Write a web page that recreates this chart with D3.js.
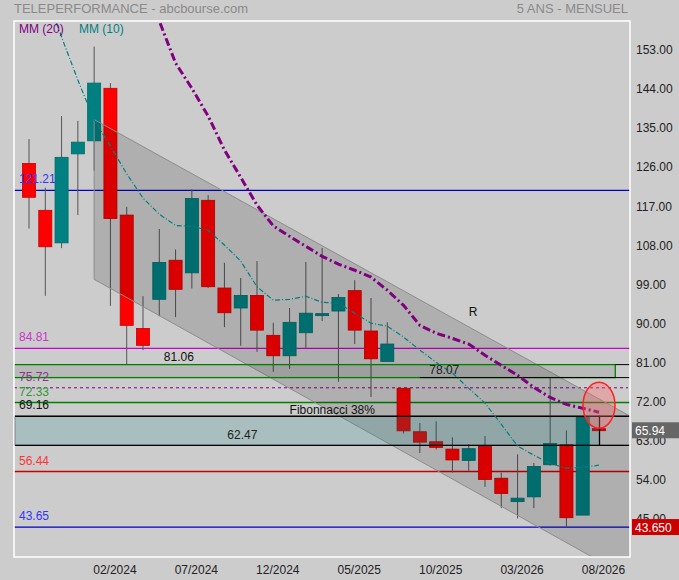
<!DOCTYPE html>
<html lang="fr">
<head>
<meta charset="UTF-8">
<title>Teleperformance</title>
<style>
  * { margin: 0; padding: 0; }
  body { background: #cccccc; }
  svg { display: block; font-family: "Liberation Sans", Arial, sans-serif; }
</style>
</head>
<body>
<div id="chart"></div>
<script src="https://cdn.jsdelivr.net/npm/d3@7/dist/d3.min.js"></script>
<script>
// monthly candles, 09/2023 -> 08/2026
const months = ['09/2023','10/2023','11/2023','12/2023','01/2024','02/2024','03/2024','04/2024','05/2024','06/2024',
  '07/2024','08/2024','09/2024','10/2024','11/2024','12/2024','01/2025','02/2025','03/2025','04/2025',
  '05/2025','06/2025','07/2025','08/2025','09/2025','10/2025','11/2025','12/2025','01/2026','02/2026',
  '03/2026','04/2026','05/2026','06/2026','07/2026','08/2026']
const open  = [127.4,116.6,109.1,129.6,132.6,144.7,115.5,89.4,96.1,105.1, 102.2,118.9,98.7,94.1,97.0,87.8,83.1,88.4,92.6,93.4,
  98.1,88.8,81.8,75.6,65.6,63.3,61.6,59.0,62.2,54.9, 49.5,50.6,58.0,62.6,46.4,66.3]
const high  = [133.0,121.8,138.3,137.2,154.3,145.9,117.4,96.8,112.3,107.6, 121.4,120.1,104.5,101.0,104.9,90.7,94.1,104.7,107.9,97.3,
  100.5,96.4,90.8,75.6,67.6,68.0,64.3,62.7,64.6,56.2, 60.4,58.4,78.07,65.9,69.16,66.3]
const low   = [112.4,96.9,107.9,115.5,125.7,94.6,81.06,84.4,92.2,92.0, 98.6,98.7,89.7,85.4,84.0,79.4,80.1,84.9,91.1,77.1,
  85.8,73.6,81.8,65.2,60.7,61.5,56.2,56.6,52.9,48.0, 45.6,48.0,57.8,43.65,46.4,65.94]
const close = [119.6,108.2,128.8,132.3,145.9,114.7,90.1,85.5,104.6,98.4, 119.3,99.0,93.0,97.0,89.0,83.1,90.8,92.9,92.8,96.5,
  89.0,82.4,85.8,65.8,63.2,62.0,59.1,61.7,54.6,51.4, 50.3,57.6,62.9,45.8,69.0,65.94]

const mm10 = [177,167,156.5,146.6,137.4,131.4,125.0,119.4,115.7,113.1, 112.9,112.0,108.6,104.9,99.0,95.9,96.1,96.8,95.4,95.2,
  92.9,90.6,89.9,87.4,84.4,81.6,79.1,75.6,72.2,67.3, 62.3,60.2,58.3,57.2,57.4,57.9]
const mm20 = [null,null,null,null,null,null,null,170,160.2,150.5, 144.7,138.3,130.5,124.2,117.8,113.0,110.6,108.3,106.0,104.2,
  102.8,101.2,98.2,94.7,90.1,88.3,87.1,85.8,83.2,80.9, 78.6,75.8,73.5,71.9,71.0,70.1]

const priceTicks = [153, 144, 135, 126, 117, 108, 99, 90, 81, 72, 63, 54, 45]
const dateTicks = ['02/2024','07/2024','12/2024','05/2025','10/2025','03/2026','08/2026']

const levelValues = [121.21, 84.81, 75.72, 72.33, 69.16, 56.44, 43.65]
const levelLine  = ['#0000cc', '#cc00cc', '#800080', '#008000', '#000000', '#cc0000', '#0000cc']
const levelText  = ['#3333ff', '#cc33cc', '#883388', '#339933', '#111111', '#ff3333', '#3333ff']

// drawn objects (month index / price)
const channelIdx = [4, 37]
const channelUpper = [137.5, 69.0]
const channelLower = [100.7, 31.7]
const greenZone = [81.06, 78.07]
const fiboZone = [69.16, 62.47]
const lastClose = 65.94
const lowest = 43.65

const W = 679, H = 580
const L = 14, R = 630, T = 21, B = 557

const svg = d3.select('#chart').append('svg')
  .attr('width', W).attr('height', H)
  .style('background-color', '#cccccc')

svg.append('defs').append('clipPath').attr('id', 'plot')
  .append('rect').attr('x', L).attr('y', T).attr('width', R - L).attr('height', B - T)

const x = d3.scaleLinear().domain([0, months.length - 1]).range([29, 599])
const y = d3.scaleLinear().domain([36.75, 160.2]).range([B, T])
const step = x(1) - x(0)
const bw = step * 0.8

// title
svg.append('text').attr('x', L).attr('y', 13).attr('fill', '#8a8a8a').attr('font-size', 13)
  .text('TELEPERFORMANCE - abcbourse.com')
svg.append('text').attr('x', R - 2).attr('y', 13).attr('fill', '#8a8a8a').attr('font-size', 13)
  .attr('text-anchor', 'end').text('5 ANS - MENSUEL')

const plot = svg.append('g').attr('clip-path', 'url(#plot)')

// level lines
levelValues.forEach((v, i) => {
  if (v === 75.72) {
    plot.append('line').attr('x1', L).attr('x2', R - 2).attr('y1', y(v)).attr('y2', y(v))
      .attr('stroke', levelLine[i]).attr('stroke-dasharray', '3,3')
  } else {
    plot.append('line').attr('x1', L).attr('x2', R).attr('y1', y(v)).attr('y2', y(v))
      .attr('stroke', levelLine[i]).attr('stroke-width', 1.3)
  }
})

// candles
const idx = d3.range(months.length)
plot.selectAll('.wick').data(idx).enter().append('line')
  .attr('x1', i => x(i)).attr('x2', i => x(i))
  .attr('y1', i => y(high[i])).attr('y2', i => y(low[i]))
  .attr('stroke', '#555').attr('stroke-width', 1)

plot.selectAll('.body').data(idx).enter().append('rect')
  .attr('x', i => x(i) - bw / 2)
  .attr('y', i => y(Math.max(open[i], close[i])))
  .attr('width', bw)
  .attr('height', i => Math.max(2, Math.abs(y(open[i]) - y(close[i]))))
  .attr('fill', i => close[i] >= open[i] ? '#008080' : '#ff0000')
  .attr('stroke', i => close[i] >= open[i] ? '#006a6a' : '#c80000')
  .attr('stroke-width', 0.8)

// channel
const chan = [
  [x(channelIdx[0]), y(channelUpper[0])], [x(channelIdx[1]), y(channelUpper[1])],
  [x(channelIdx[1]), y(channelLower[1])], [x(channelIdx[0]), y(channelLower[0])]
]
plot.append('path').attr('d', d3.line()(chan) + 'Z')
  .attr('fill', 'rgba(0,0,0,0.14)').attr('stroke', '#8c8c8c').attr('stroke-width', 1)

// green zone
plot.append('rect').attr('x', L).attr('y', y(greenZone[0]))
  .attr('width', x(36) - L).attr('height', y(greenZone[1]) - y(greenZone[0]))
  .attr('fill', 'rgba(0,0,0,0.09)').attr('stroke', '#008000').attr('stroke-width', 1.3)
plot.append('line').attr('x1', x(36)).attr('x2', R).attr('y1', y(greenZone[0])).attr('y2', y(greenZone[0]))
  .attr('stroke', '#000')
plot.append('line').attr('x1', x(24)).attr('x2', R).attr('y1', y(greenZone[1])).attr('y2', y(greenZone[1]))
  .attr('stroke', '#000')

// fibonacci zone
plot.append('rect').attr('x', L + 0.5).attr('y', y(fiboZone[0]))
  .attr('width', x(35) - L).attr('height', y(fiboZone[1]) - y(fiboZone[0]))
  .attr('fill', 'rgba(0,128,128,0.17)').attr('stroke', '#000').attr('stroke-width', 1.3)
fiboZone.forEach(v => {
  plot.append('line').attr('x1', x(35)).attr('x2', R).attr('y1', y(v)).attr('y2', y(v))
    .attr('stroke', '#000').attr('stroke-width', 1.3)
})

// moving averages
const lineGen = d3.line().defined(d => d[1] != null).x(d => x(d[0])).y(d => y(d[1]))
plot.append('path').attr('d', lineGen(mm10.map((v, i) => [i, v])))
  .attr('fill', 'none').attr('stroke', '#008080').attr('stroke-width', 1.2)
  .attr('stroke-dasharray', '5,2,1,2')
plot.append('path').attr('d', lineGen(mm20.map((v, i) => [i, v])))
  .attr('fill', 'none').attr('stroke', '#800080').attr('stroke-width', 3)
  .attr('stroke-dasharray', '8,3,2,3')

// red ellipse on the last candle
plot.append('ellipse').attr('cx', x(35)).attr('cy', y(71.7)).attr('rx', 16).attr('ry', 23)
  .attr('fill', 'rgba(255,100,100,0.35)').attr('stroke', '#ff2020').attr('stroke-width', 1.5)

// plot frame
svg.append('rect').attr('x', L).attr('y', T).attr('width', R - L).attr('height', B - T)
  .attr('fill', 'none').attr('stroke', '#ffffff').attr('stroke-width', 1.5)

// level labels
levelValues.forEach((v, i) => {
  svg.append('text').attr('x', 19).attr('y', y(v) - 7).attr('fill', levelText[i])
    .attr('font-size', 12).text(v.toFixed(2))
})
svg.append('text').attr('x', x(9.2)).attr('y', y(greenZone[0]) - 4).attr('text-anchor', 'middle')
  .attr('font-size', 12).attr('fill', '#111').text(greenZone[0].toFixed(2))
svg.append('text').attr('x', x(25.5)).attr('y', y(greenZone[1]) - 4).attr('text-anchor', 'middle')
  .attr('font-size', 12).attr('fill', '#222').text(greenZone[1].toFixed(2))
svg.append('text').attr('x', x(13.1)).attr('y', y(fiboZone[1]) - 6).attr('text-anchor', 'middle')
  .attr('font-size', 12).attr('fill', '#222').text(fiboZone[1].toFixed(2))
svg.append('text').attr('x', x(16)).attr('y', y(fiboZone[0]) - 2)
  .attr('font-size', 12).attr('fill', '#111').text('Fibonnacci 38%')
svg.append('text').attr('x', x(27)).attr('y', y(92.3))
  .attr('font-size', 12).attr('fill', '#111').text('R')

// legend
svg.append('text').attr('x', 19).attr('y', 33).attr('font-size', 12).attr('fill', '#800080').text('MM (20)')
svg.append('text').attr('x', 79).attr('y', 33).attr('font-size', 12).attr('fill', '#008080').text('MM (10)')

// axes
const yAxis = svg.append('g').attr('transform', `translate(${R},0)`)
  .call(d3.axisRight(y).tickValues(priceTicks).tickFormat(d3.format('.2f')).tickSize(0).tickPadding(6))
yAxis.select('.domain').remove()
yAxis.selectAll('text').attr('font-size', 12).attr('fill', '#222').attr('dy', '0.12em')
  .style('font-family', '"Liberation Sans", Arial, sans-serif')

const xAxis = svg.append('g').attr('transform', `translate(4,${B})`)
  .call(d3.axisBottom(x).tickValues(dateTicks.map(m => months.indexOf(m)))
    .tickFormat(i => months[i]).tickSize(0).tickPadding(8))
xAxis.select('.domain').remove()
xAxis.selectAll('text').attr('font-size', 12).attr('fill', '#222')
  .style('font-family', '"Liberation Sans", Arial, sans-serif')

// price badges
const badge = (v, fill, label) => {
  svg.append('rect').attr('x', R + 2).attr('y', y(v) - 8).attr('width', W - R - 2).attr('height', 16)
    .attr('fill', fill)
  svg.append('text').attr('x', R + 5).attr('y', y(v) + 4.5).attr('font-size', 12)
    .attr('fill', '#ffffff').text(label)
}
badge(lastClose, '#666666', lastClose.toFixed(2))
badge(lowest, '#cc0000', lowest.toFixed(3))
</script>
</body>
</html>
